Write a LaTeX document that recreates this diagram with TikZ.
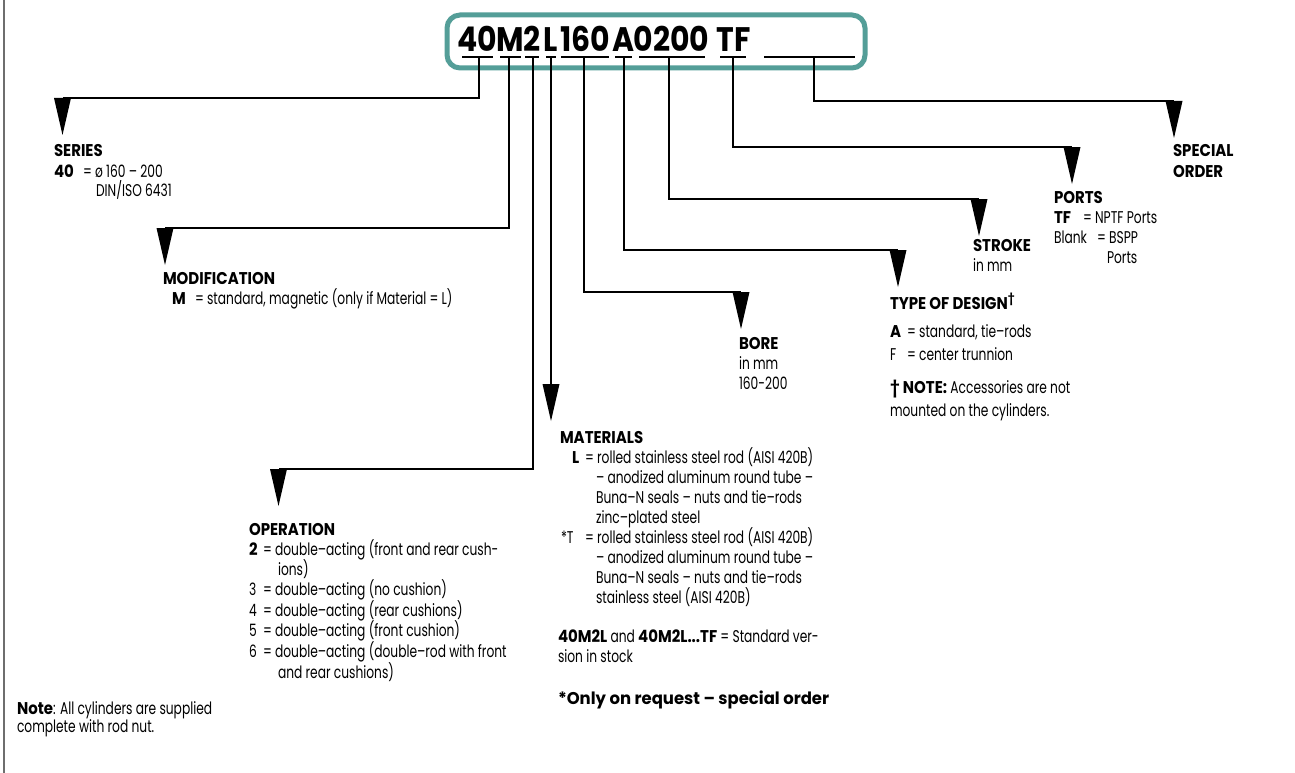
\documentclass[tikz,border=0pt]{standalone}
\usepackage{fontspec}
\setmainfont{Poppins}[FakeStretch=0.72, BoldFeatures={FakeStretch=0.88}]
\usetikzlibrary{calc}
\definecolor{teal1}{RGB}{84,158,152}
\definecolor{border}{RGB}{110,110,110}
\tikzset{
  lbl/.style={anchor=base west, inner sep=0pt, outer sep=0pt, font=\fontsize{17}{20}\selectfont},
  ttl/.style={lbl, font=\fontsize{17}{20}\selectfont\bfseries},
  code/.style={anchor=base, inner sep=0pt, font=\fontsize{34}{40}\selectfont\bfseries},
  uline/.style={line width=1.4pt},
  conn/.style={line width=1.3pt},
  tri/.style={fill=black}
}
\newcommand\pointer[1]{\fill[tri] ($(#1)+(-8.5,0)$) -- ($(#1)+(8.5,0)$) -- ($(#1)+(0,37)$) -- cycle;}
\begin{document}
\begin{tikzpicture}[x=1pt,y=-1pt]
\useasboundingbox (0,0) rectangle (1295,773);
\draw[border, line width=2pt] (4,0) -- (4,773);
% code box
\draw[teal1, line width=5pt, rounded corners=13pt] (447,15) rectangle (865,68);
\node[code] (c40) at (477.5,52) {40};
\node[code] (cM) at (510,52) {M};
\node[code] (c2) at (532,52) {2};
\node[code] (cL) at (551,52) {L};
\node[code] (c160) at (585.5,52) {160};
\node[code] (cA) at (624,52) {A};
\node[code] (c0200) at (671.5,52) {0200};
\node[code] (cTF) at (733.5,52) {TF};
% underlines
\draw[uline] (462,57) -- (493,57); \coordinate (u40) at (479,57);
\draw[uline] (500,57) -- (521,57); \coordinate (uM) at (509,57);
\draw[uline] (525,57) -- (539,57); \coordinate (u2) at (533,57);
\draw[uline] (546,57) -- (556,57); \coordinate (uL) at (551,57);
\draw[uline] (561,57) -- (609,57); \coordinate (u160) at (584,57);
\draw[uline] (615,57) -- (632,57); \coordinate (uA) at (624,57);
\draw[uline] (639,57) -- (705,57); \coordinate (u0200) at (669,57);
\draw[uline] (720,57) -- (746,57); \coordinate (uTF) at (733,57);
\draw[uline] (764,57) -- (855,57); \coordinate (ublank) at (814,57);
% pointer coordinates
\coordinate (pSer) at (62.5,98);
\coordinate (pMod) at (165,228);
\coordinate (pOp) at (278.5,469);
\coordinate (pMat) at (551,384);
\coordinate (pBore) at (741,292);
\coordinate (pDes) at (898,250);
\coordinate (pStr) at (979,199);
\coordinate (pPort) at (1072,147);
\coordinate (pSpec) at (1174,101);
% connectors
\draw[conn] (u40) |- (pSer);
\draw[conn] (uM) |- (pMod);
\draw[conn] (u2) |- (pOp);
\draw[conn] (uL) -- (pMat);
\draw[conn] (u160) |- (pBore);
\draw[conn] (uA) |- (pDes);
\draw[conn] (u0200) |- (pStr);
\draw[conn] (uTF) |- (pPort);
\draw[conn] (ublank) |- (pSpec);
\pointer{pSer}\pointer{pMod}\pointer{pOp}\pointer{pMat}\pointer{pBore}
\pointer{pDes}\pointer{pStr}\pointer{pPort}\pointer{pSpec}
% SERIES
\node[ttl] (ser1) at (54,157) {SERIES};
\node[ttl] (ser2a) at (54,177) {40};
\node[lbl] (ser2b) at (83,177) {= ø 160 – 200};
\node[lbl] (ser3) at (96,196) {DIN/ISO 6431};
% MODIFICATION
\node[ttl] (mod1) at (163,284) {MODIFICATION};
\node[ttl] (mod2a) at (172,304) {M};
\node[lbl] (mod2b) at (195,304) {= standard, magnetic (only if Material = L)};
% OPERATION
\node[ttl] (op1) at (249,535) {OPERATION};
\node[ttl] (op2a) at (249,555) {2};
\node[lbl] (op2b) at (263,555) {= double–acting (front and rear cush-};
\node[lbl] (op3) at (278,575) {ions)};
\node[lbl] (op4a) at (249,595) {3};
\node[lbl] (op4b) at (263,595) {= double–acting (no cushion)};
\node[lbl] (op5a) at (249,616) {4};
\node[lbl] (op5b) at (263,616) {= double–acting (rear cushions)};
\node[lbl] (op6a) at (249,636) {5};
\node[lbl] (op6b) at (263,636) {= double–acting (front cushion)};
\node[lbl] (op7a) at (249,657) {6};
\node[lbl] (op7b) at (263,657) {= double–acting (double–rod with front};
\node[lbl] (op8) at (278,678) {and rear cushions)};
% MATERIALS
\node[ttl] (mat1) at (560,443) {MATERIALS};
\node[ttl] (mat2a) at (572,463) {L};
\node[lbl] (mat2b) at (585,463) {= rolled stainless steel rod (AISI 420B)};
\node[lbl] (mat3) at (596,483) {– anodized aluminum round tube –};
\node[lbl] (mat4) at (596,503) {Buna–N seals – nuts and tie–rods};
\node[lbl] (mat5) at (596,523) {zinc–plated steel};
\node[lbl] (mat6a) at (561,543) {*T};
\node[lbl] (mat6b) at (585,543) {= rolled stainless steel rod (AISI 420B)};
\node[lbl] (mat7) at (596,563) {– anodized aluminum round tube –};
\node[lbl] (mat8) at (596,583) {Buna–N seals – nuts and tie–rods};
\node[lbl] (mat9) at (596,603) {stainless steel (AISI 420B)};
\node[lbl] (std1) at (558,642) {\textbf{40M2L} and \textbf{40M2L...TF} = Standard ver-};
\node[lbl] (std2) at (558,662) {sion in stock};
\node[ttl] (req) at (558,704) {\scalebox{1.1}[1]{*Only on request – special order}};
% BORE
\node[ttl] (bore1) at (739,349) {BORE};
\node[lbl] (bore2) at (739,369) {in mm};
\node[lbl] (bore3) at (739,389) {160-200};
% STROKE
\node[ttl] (str1) at (973,251) {STROKE};
\node[lbl] (str2) at (973,271) {in mm};
% TYPE OF DESIGN
\node[ttl] (des1) at (890,309) {TYPE OF DESIGN\textsuperscript{\fontsize{12}{12}\selectfont †}};
\node[ttl] (des2a) at (890,337) {A};
\node[lbl] (des2b) at (907,337) {= standard, tie–rods};
\node[lbl] (des3a) at (890,360) {F};
\node[lbl] (des3b) at (907,360) {= center trunnion};
\node[lbl] (note1) at (890,393) {\textbf{† NOTE:} Accessories are not};
\node[lbl] (note2) at (890,416) {mounted on the cylinders.};
% PORTS
\node[ttl] (port1) at (1054,203) {PORTS};
\node[ttl] (port2a) at (1054,223) {TF};
\node[lbl] (port2b) at (1083,223) {= NPTF Ports};
\node[lbl] (port3a) at (1054,243) {Blank};
\node[lbl] (port3b) at (1097,243) {= BSPP};
\node[lbl] (port4) at (1107,263) {Ports};
% SPECIAL ORDER
\node[ttl] (spec1) at (1173,157) {SPECIAL};
\node[ttl] (spec2) at (1173,177) {ORDER};
% Note
\node[lbl] (gnote1) at (17,714) {\textbf{Note}: All cylinders are supplied};
\node[lbl] (gnote2) at (17,732) {complete with rod nut.};
\end{tikzpicture}
\end{document}
